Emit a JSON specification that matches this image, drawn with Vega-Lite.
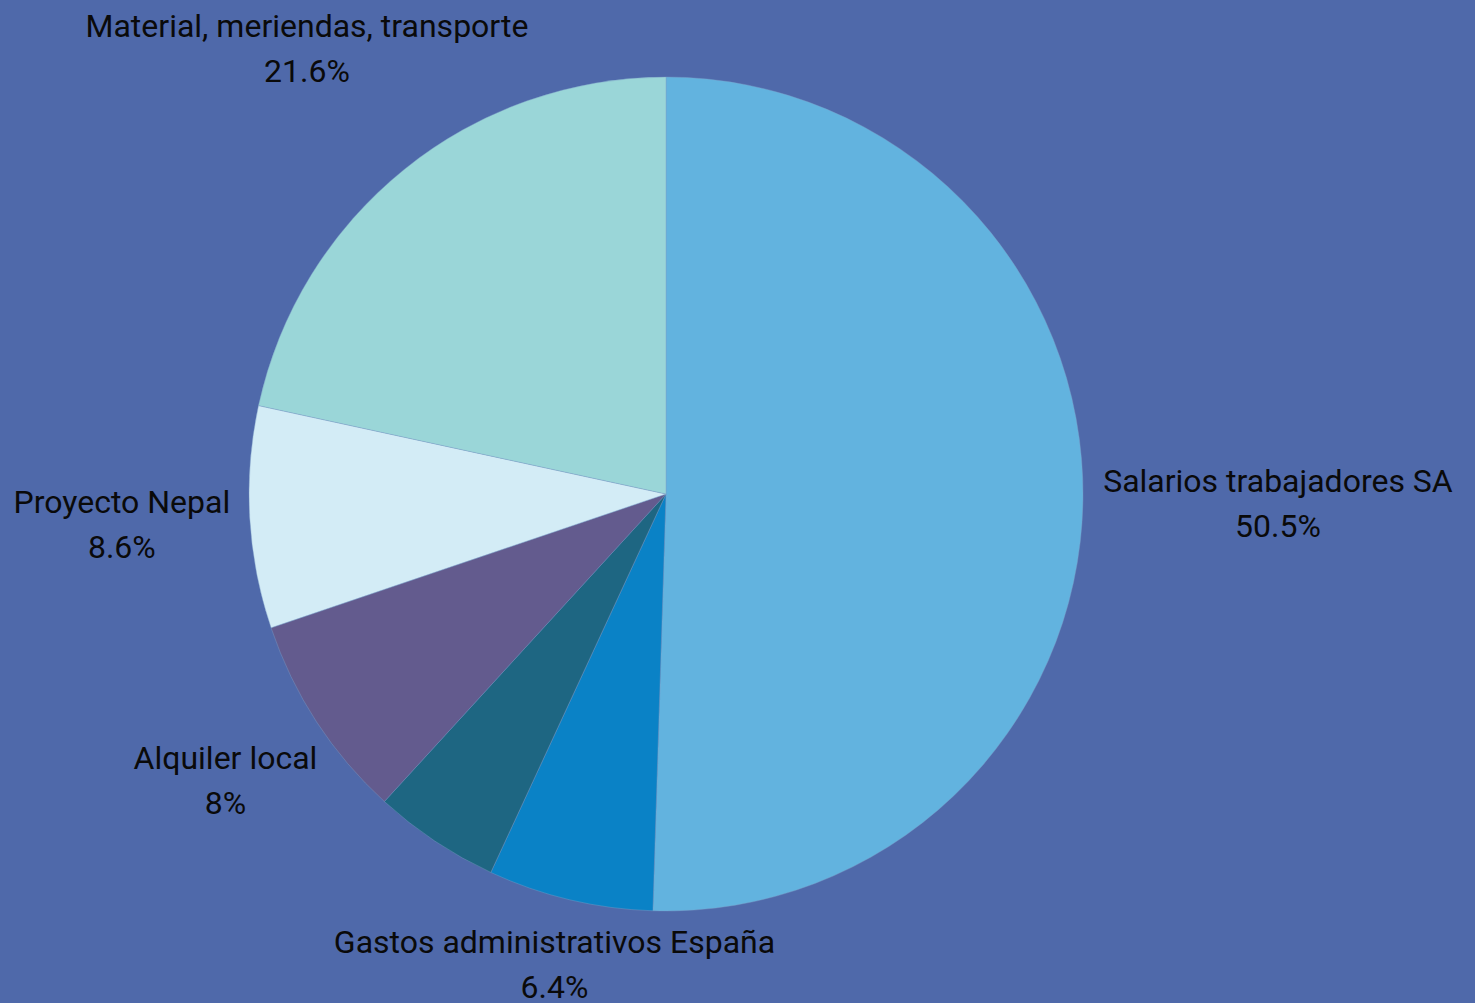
{
  "$schema": "https://vega.github.io/schema/vega-lite/v6.json",
  "width": 1332,
  "height": 988,
  "autosize": {"type": "none"},
  "padding": {"left": 0, "top": 0, "right": 143, "bottom": 15},
  "background": "#4F69AA",
  "view": {"stroke": null},
  "data": {
    "values": [
      {"orden": 1, "categoria": "Salarios trabajadores SA", "pct": 50.5, "etiqueta": "50.5%"},
      {"orden": 2, "categoria": "Gastos administrativos España", "pct": 6.4, "etiqueta": "6.4%"},
      {"orden": 3, "categoria": "Otros", "pct": 4.9, "etiqueta": "4.9%"},
      {"orden": 4, "categoria": "Alquiler local", "pct": 8, "etiqueta": "8%"},
      {"orden": 5, "categoria": "Proyecto Nepal", "pct": 8.6, "etiqueta": "8.6%"},
      {"orden": 6, "categoria": "Material, meriendas, transporte", "pct": 21.6, "etiqueta": "21.6%"}
    ]
  },
  "encoding": {
    "theta": {"field": "pct", "type": "quantitative", "stack": true},
    "order": {"field": "orden", "type": "quantitative", "sort": "ascending"}
  },
  "layer": [
    {
      "mark": {"type": "arc", "outerRadius": 417, "stroke": "#7FA0C8", "strokeWidth": 0.4},
      "encoding": {
        "color": {
          "field": "categoria",
          "type": "nominal",
          "legend": null,
          "scale": {
            "domain": ["Salarios trabajadores SA", "Gastos administrativos España", "Otros", "Alquiler local", "Proyecto Nepal", "Material, meriendas, transporte"],
            "range": ["#62B3DF", "#0A82C6", "#1E6682", "#635B8E", "#D3ECF6", "#9AD6D8"]
          }
        }
      }
    },
    {
      "transform": [{"calculate": "datum.categoria === 'Salarios trabajadores SA' ? [datum.categoria, datum.etiqueta] : ''", "as": "texto"}],
      "mark": {"type": "text", "font": "Roboto", "fontSize": 32, "lineHeight": 45, "align": "center", "baseline": "middle", "dy": -22, "color": "#0A0A0A"},
      "encoding": {"text": {"field": "texto"}, "radius": {"value": 612}}
    },
    {
      "transform": [{"calculate": "datum.categoria === 'Gastos administrativos España' ? [datum.categoria, datum.etiqueta] : ''", "as": "texto"}],
      "mark": {"type": "text", "font": "Roboto", "fontSize": 32, "lineHeight": 45, "align": "center", "baseline": "middle", "dy": -22, "color": "#0A0A0A"},
      "encoding": {"text": {"field": "texto"}, "radius": {"value": 484}}
    },
    {
      "transform": [{"calculate": "datum.categoria === 'Alquiler local' ? [datum.categoria, datum.etiqueta] : ''", "as": "texto"}],
      "mark": {"type": "text", "font": "Roboto", "fontSize": 32, "lineHeight": 45, "align": "center", "baseline": "middle", "dy": -22, "color": "#0A0A0A"},
      "encoding": {"text": {"field": "texto"}, "radius": {"value": 526}}
    },
    {
      "transform": [{"calculate": "datum.categoria === 'Proyecto Nepal' ? [datum.categoria, datum.etiqueta] : ''", "as": "texto"}],
      "mark": {"type": "text", "font": "Roboto", "fontSize": 32, "lineHeight": 45, "align": "center", "baseline": "middle", "dy": -22, "color": "#0A0A0A"},
      "encoding": {"text": {"field": "texto"}, "radius": {"value": 545}}
    },
    {
      "transform": [{"calculate": "datum.categoria === 'Material, meriendas, transporte' ? [datum.categoria, datum.etiqueta] : ''", "as": "texto"}],
      "mark": {"type": "text", "font": "Roboto", "fontSize": 32, "lineHeight": 45, "align": "center", "baseline": "middle", "dy": -22, "color": "#0A0A0A"},
      "encoding": {"text": {"field": "texto"}, "radius": {"value": 572}}
    }
  ]
}
